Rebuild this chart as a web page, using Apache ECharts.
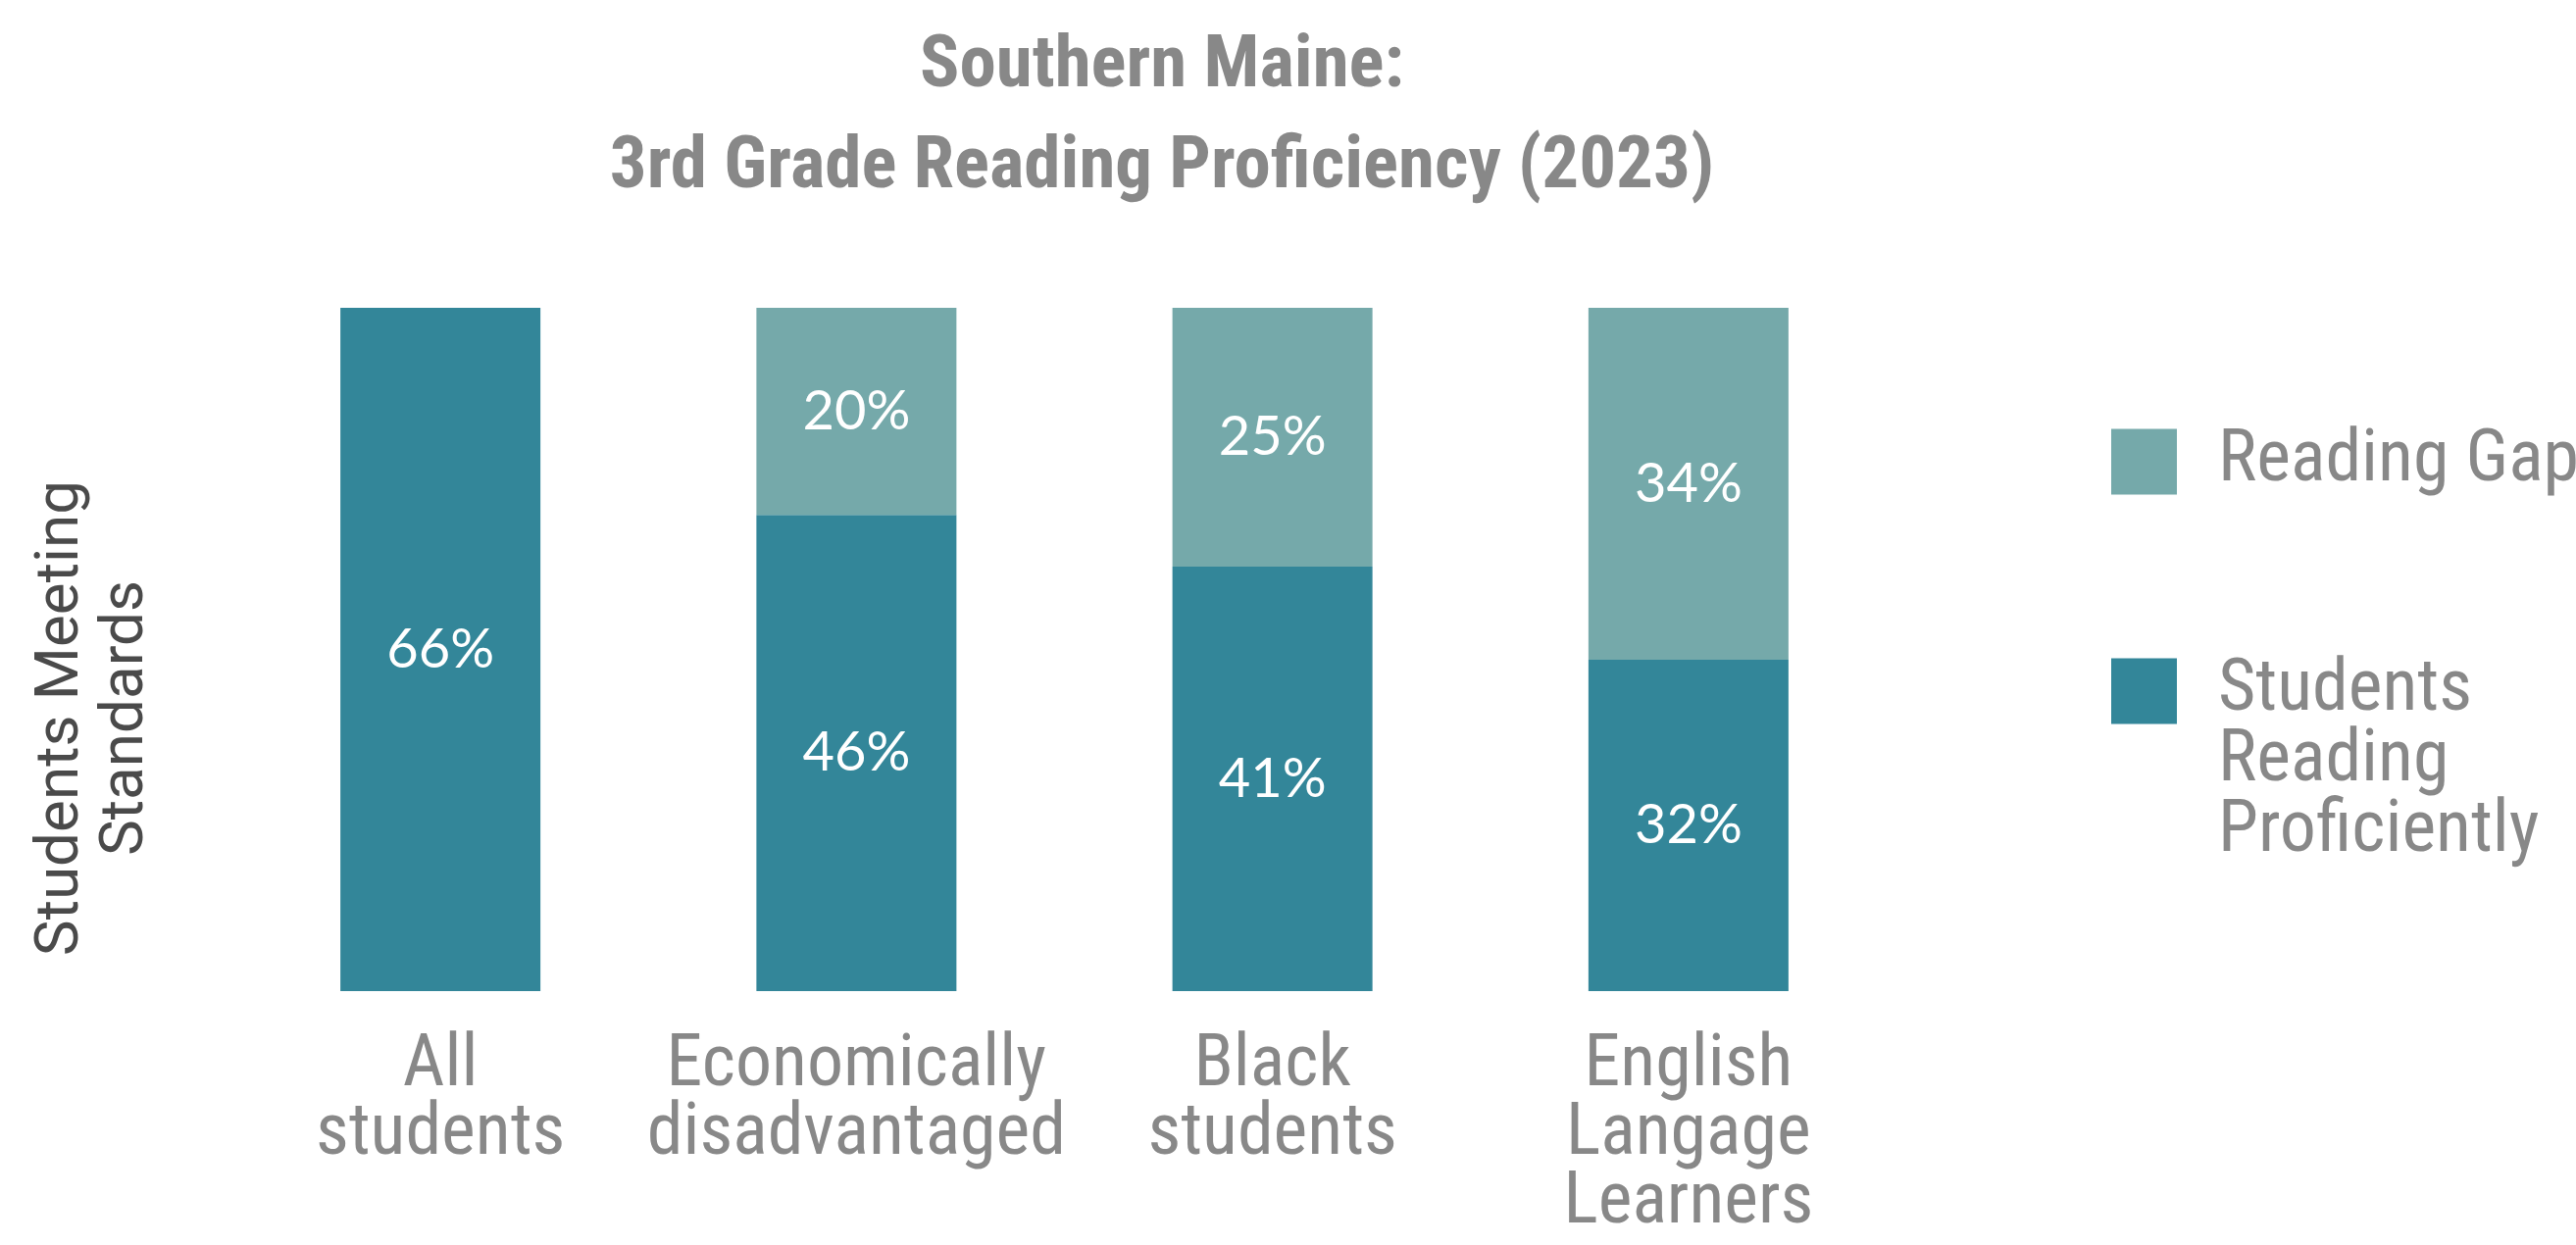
<!DOCTYPE html>
<html lang="en">
<head>
  <meta charset="UTF-8">
  <title>Southern Maine: 3rd Grade Reading Proficiency (2023)</title>
  <script src="https://cdn.jsdelivr.net/npm/echarts@6/dist/echarts.min.js"></script>
  <style>
    html, body { margin: 0; padding: 0; background: #fff; }
    #chart { width: 2627px; height: 1270px; }
  </style>
</head>
<body>
  <div id="chart"></div>
  <script>
    // data
    var groups = ['All\nstudents', 'Economically\ndisadvantaged', 'Black\nstudents', 'English\nLangage\nLearners'];
    var proficient = [66, 46, 41, 32];
    var gap = [0, 20, 25, 34];
    var seriesNames = ['Students Reading Proficiently', 'Reading Gap'];

    var darkTeal = '#338699';
    var lightTeal = '#75a9aa';
    var narrow = "'Roboto Condensed', 'Liberation Sans Narrow', 'DejaVu Sans Condensed', sans-serif";

    var chart = echarts.init(document.getElementById('chart'));

    function pctLabel(p) {
      return p.value ? p.value + '%' : '';
    }

    var legendText = {
      fontFamily: narrow,
      fontSize: 74,
      lineHeight: 72,
      color: '#888888',
      padding: [0, 0, 0, 37]
    };

    var option = {
      backgroundColor: '#fff',
      animation: false,
      title: {
        text: 'Southern Maine:\n3rd Grade Reading Proficiency (2023)',
        left: 1185,
        top: 18,
        padding: 0,
        textAlign: 'center',
        textStyle: {
          fontFamily: narrow,
          fontWeight: 'bold',
          fontSize: 75,
          lineHeight: 103,
          color: '#888888'
        }
      },
      legend: [
        {
          data: [seriesNames[1]],
          left: 2153,
          top: 434,
          padding: 0,
          icon: 'rect',
          itemWidth: 67,
          itemHeight: 67,
          selectedMode: false,
          textStyle: legendText
        },
        {
          // two empty lines above so the first word sits level with the swatch
          data: [seriesNames[0]],
          left: 2153,
          top: 524,
          padding: 0,
          icon: 'rect',
          itemWidth: 67,
          itemHeight: 67,
          selectedMode: false,
          formatter: function (name) { return '\n\n' + name.split(' ').join('\n'); },
          textStyle: legendText
        }
      ],
      grid: {
        left: 237,
        right: 693,
        top: 314,
        bottom: 259,
        outerBoundsMode: 'none'
      },
      xAxis: {
        type: 'category',
        data: groups,
        axisLine: { show: false },
        axisTick: { show: false },
        axisLabel: {
          margin: 42,
          fontFamily: narrow,
          fontSize: 74,
          lineHeight: 70,
          color: '#888888',
          interval: 0
        }
      },
      yAxis: {
        type: 'value',
        min: 0,
        max: 66,
        splitLine: { show: false },
        axisLine: { show: false },
        axisTick: { show: false },
        axisLabel: { show: false },
        name: 'Students Meeting\nStandards',
        nameLocation: 'middle',
        nameGap: 75,
        nameTextStyle: {
          fontFamily: 'Roboto, sans-serif',
          fontSize: 62,
          lineHeight: 66,
          color: '#4a4a4a',
          padding: [0, 140, 0, 0]
        }
      },
      series: [
        {
          name: seriesNames[0],
          type: 'bar',
          stack: 'total',
          barWidth: 204,
          data: proficient,
          itemStyle: { color: darkTeal },
          label: {
            show: true,
            position: 'inside',
            formatter: pctLabel,
            fontFamily: 'Lato, sans-serif',
            fontSize: 56,
            color: '#fff'
          }
        },
        {
          name: seriesNames[1],
          type: 'bar',
          stack: 'total',
          barWidth: 204,
          data: gap,
          itemStyle: { color: lightTeal },
          label: {
            show: true,
            position: 'inside',
            formatter: pctLabel,
            fontFamily: 'Lato, sans-serif',
            fontSize: 56,
            color: '#fff'
          }
        }
      ]
    };

    chart.setOption(option);
    window.addEventListener('resize', function () { chart.resize(); });
  </script>
</body>
</html>
